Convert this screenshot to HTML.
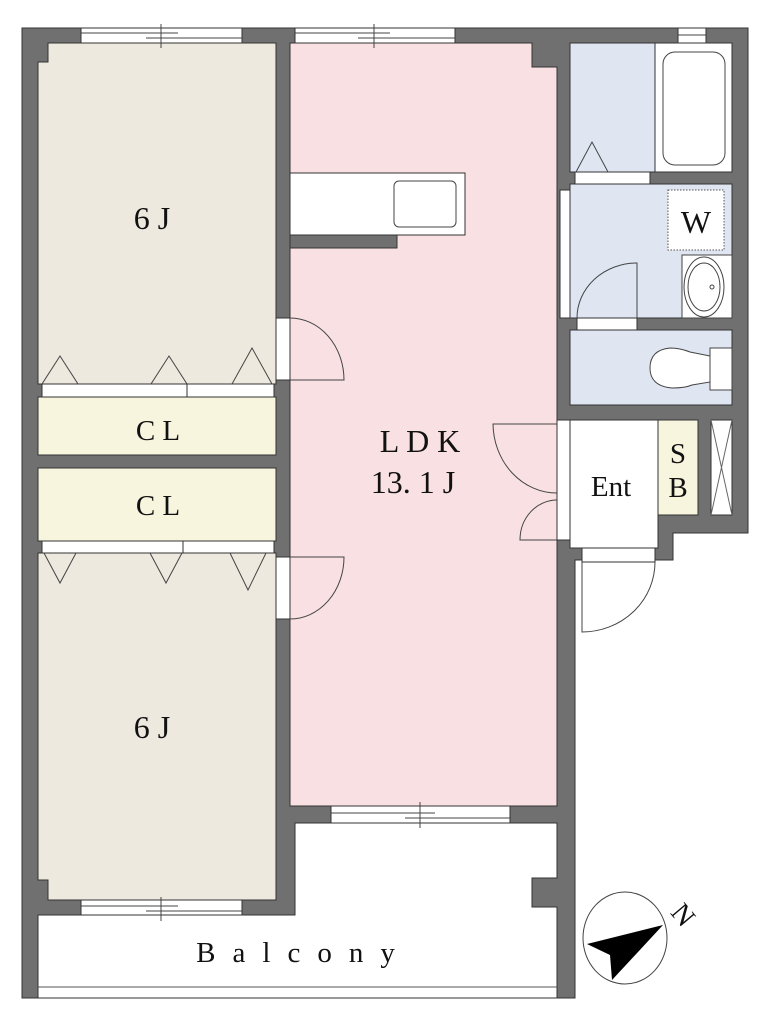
<!DOCTYPE html>
<html><head><meta charset="utf-8"><style>
html,body{margin:0;padding:0;background:#fff}
svg{display:block}
text{font-family:"Liberation Serif",serif;fill:#111}
</style></head><body>
<svg width="762" height="1024" viewBox="0 0 762 1024" xmlns="http://www.w3.org/2000/svg">
<path d="M22 28 H748 V533 H673 V560 H575 V998 H22 Z" fill="#707070" stroke="#333" stroke-width="1"/>
<path d="M38 915 H295 V823 H557 V878 H532 V907 H557 V998 H38 Z" fill="#fff" stroke="#333" stroke-width="1"/>
<line x1="38" y1="987" x2="557" y2="987" stroke="#555" stroke-width="1"/>
<path d="M48 43 H276 V384 H38 V62 H48 Z" fill="#ede9df" stroke="#333" stroke-width="1"/>
<path d="M38 553 H276 V900 H48 V880 H38 Z" fill="#ede9df" stroke="#333" stroke-width="1"/>
<rect x="42" y="384" width="232" height="13" fill="#fff" stroke="#333" stroke-width="1"/>
<line x1="187" y1="384" x2="187" y2="397" stroke="#333"/>
<rect x="38" y="397" width="238" height="58" fill="#f7f5dd" stroke="#333" stroke-width="1"/>
<rect x="38" y="468" width="238" height="73" fill="#f7f5dd" stroke="#333" stroke-width="1"/>
<rect x="42" y="541" width="232" height="12" fill="#fff" stroke="#333" stroke-width="1"/>
<line x1="183" y1="541" x2="183" y2="553" stroke="#333"/>
<g fill="none" stroke="#444" stroke-width="1">
<path d="M42 384 L60 356 L78 384"/><path d="M151 384 L169 356 L187 384"/><path d="M232 384 L252 348 L272 384"/>
<path d="M44 553 L60 583 L76 553"/><path d="M150 553 L166 583 L182 553"/><path d="M230 553 L248 590 L266 553"/>
</g>
<path d="M290 43 H532 V67 H557 V806 H290 Z" fill="#f9e1e3" stroke="#333" stroke-width="1"/>
<rect x="290" y="173" width="175" height="62" fill="#fff" stroke="#333" stroke-width="1"/>
<rect x="394" y="181" width="62" height="46" rx="5" fill="#fff" stroke="#444" stroke-width="1"/>
<rect x="290" y="235" width="107" height="13" fill="#707070" stroke="#333" stroke-width="1"/>
<g fill="#fff" stroke="#333" stroke-width="1">
<rect x="81" y="28" width="161" height="15"/><rect x="295" y="28" width="160" height="15"/>
<rect x="331" y="806" width="179" height="17"/><rect x="81" y="900" width="161" height="15"/>
<rect x="678" y="28" width="28" height="15"/>
</g>
<g stroke="#444" stroke-width="1">
<line x1="81" y1="33" x2="178" y2="33"/><line x1="146" y1="38" x2="242" y2="38"/><line x1="161" y1="24" x2="161" y2="48"/>
<line x1="295" y1="33" x2="390" y2="33"/><line x1="358" y1="38" x2="455" y2="38"/><line x1="374" y1="24" x2="374" y2="48"/>
<line x1="331" y1="813" x2="435" y2="813"/><line x1="405" y1="818" x2="510" y2="818"/><line x1="420" y1="802" x2="420" y2="828"/>
<line x1="81" y1="906" x2="178" y2="906"/><line x1="146" y1="911" x2="242" y2="911"/><line x1="161" y1="897" x2="161" y2="921"/>
<line x1="678" y1="35" x2="706" y2="35"/>
</g>
<rect x="276" y="318" width="14" height="62" fill="#fff" stroke="#333"/>
<path d="M290 318 A54 62 0 0 1 344 380 H290" fill="none" stroke="#444"/>
<rect x="276" y="557" width="14" height="62" fill="#fff" stroke="#333"/>
<path d="M290 619 A54 62 0 0 0 344 557 H290" fill="none" stroke="#444"/>
<rect x="570" y="43" width="85" height="129" fill="#dfe6f2" stroke="#333"/>
<rect x="655" y="43" width="77" height="129" fill="#fff" stroke="#333"/>
<rect x="663" y="52" width="62" height="113" rx="12" fill="#fff" stroke="#444"/>
<rect x="575" y="172" width="75" height="12" fill="#fff" stroke="#333"/>
<path d="M576 172 L592 142 L608 172" fill="none" stroke="#444"/>
<rect x="570" y="184" width="162" height="134" fill="#dfe6f2" stroke="#333"/>
<rect x="560" y="190" width="10" height="128" fill="#fff" stroke="#333"/>
<rect x="668" y="190" width="56" height="60" fill="#fff" stroke="#555" stroke-dasharray="1.5 1.5"/>
<rect x="682" y="255" width="50" height="63" fill="#fff" stroke="#444"/>
<ellipse cx="704" cy="287" rx="16" ry="24" fill="#fff" stroke="#444"/>
<ellipse cx="704" cy="287" rx="20" ry="30" fill="none" stroke="#444"/>
<circle cx="712" cy="287" r="2" fill="none" stroke="#444"/>
<rect x="577" y="318" width="60" height="12" fill="#fff" stroke="#333"/>
<path d="M637 318 V263 A60 55 0 0 0 577 318" fill="none" stroke="#444"/>
<rect x="570" y="330" width="162" height="75" fill="#dfe6f2" stroke="#333"/>
<rect x="710" y="348" width="22" height="42" fill="#fff" stroke="#444"/>
<path d="M710 356 L690 352 Q680 348 670 348 Q650 350 650 368 Q650 386 672 388 Q685 388 692 385 L710 382 Z" fill="#fff" stroke="#444"/>
<rect x="570" y="420" width="88" height="128" fill="#fff" stroke="#333"/>
<rect x="658" y="420" width="40" height="95" fill="#f7f5dd" stroke="#333"/>
<rect x="711" y="420" width="21" height="95" fill="#fff" stroke="#333"/>
<path d="M711 420 L732 515 M732 420 L711 515" stroke="#666" fill="none"/>
<rect x="582" y="548" width="73" height="14" fill="#fff" stroke="#333"/>
<path d="M582 562 V632 A73 70 0 0 0 655 562" fill="none" stroke="#444"/>
<rect x="557" y="420" width="13" height="120" fill="#fff" stroke="#333"/>
<path d="M557 424 H493 A64 70 0 0 0 557 493" fill="none" stroke="#444"/>
<path d="M557 540 H520 A37 40 0 0 1 557 500" fill="none" stroke="#444"/>
<g font-family="Liberation Serif, serif" fill="#111">
<text x="152" y="229" font-size="32" text-anchor="middle">6 J</text>
<text x="158" y="440" font-size="29" text-anchor="middle">C L</text>
<text x="158" y="515" font-size="29" text-anchor="middle">C L</text>
<text x="152" y="738" font-size="32" text-anchor="middle">6 J</text>
<text x="420" y="452" font-size="32" text-anchor="middle">L D K</text>
<text x="413" y="493" font-size="32" text-anchor="middle">13. 1 J</text>
<text x="611" y="496" font-size="29" text-anchor="middle">Ent</text>
<text x="678" y="463" font-size="29" text-anchor="middle">S</text>
<text x="678" y="497" font-size="29" text-anchor="middle">B</text>
<text x="696" y="233" font-size="32" text-anchor="middle">W</text>
<text x="304" y="962" font-size="29" text-anchor="middle" letter-spacing="17">Balcony</text>
<text x="683" y="924" font-size="28" text-anchor="middle" transform="rotate(50 683 915)">N</text>
</g>
<ellipse cx="625" cy="938" rx="42" ry="46" fill="#fff" stroke="#444"/>
<polygon points="587,944 663,925 612,980 610,955" fill="#000"/>
</svg>
</body></html>
